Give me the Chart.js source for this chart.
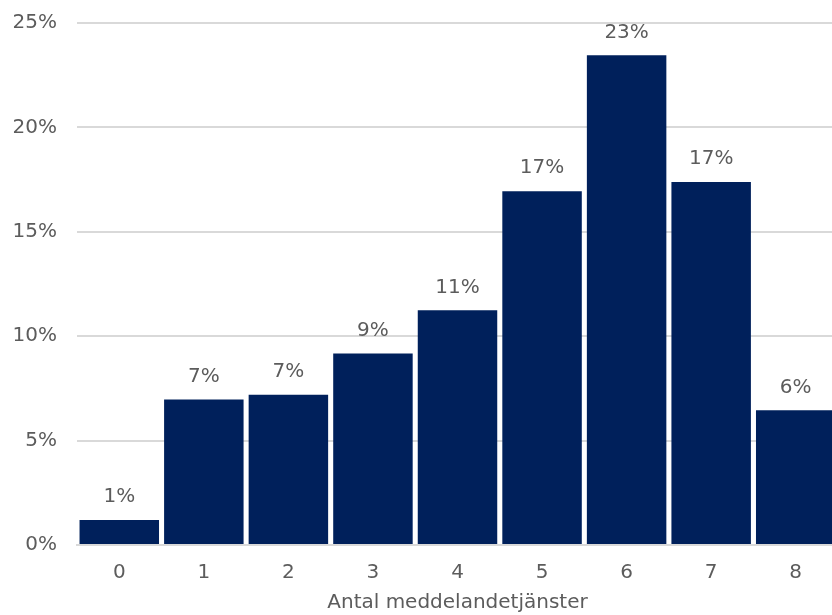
<!DOCTYPE html>
<html>
<head>
<meta charset="utf-8">
<script src="https://cdn.jsdelivr.net/npm/chart.js@4"></script>
<style>
  html,body{margin:0;padding:0;background:#fff;overflow:hidden;}
  #wrap{width:838px;height:615px;}
</style>
</head>
<body>
<div id="wrap"><canvas id="chart" width="838" height="615"></canvas></div>
<script>
/* andel respondenter per antal meddelandetjänster (%) */
const kategorier = ['0','1','2','3','4','5','6','7','8'];
const andel = [1.2, 6.97, 7.19, 9.17, 11.24, 16.94, 23.45, 17.38, 6.45];
const yTicks = [0, 5, 10, 15, 20, 25];
const xTitel = 'Antal meddelandetjänster';

const TEXT = '#5c5c5c';
const FONT = "'DejaVu Sans', sans-serif";
const SIZE = 20;

// etiketter ovanför staplarna
const stapelEtiketter = {
  id: 'stapelEtiketter',
  afterDatasetsDraw(chart){
    const ctx = chart.ctx;
    const meta = chart.getDatasetMeta(0);
    ctx.save();
    ctx.fillStyle = TEXT;
    ctx.font = SIZE + 'px ' + FONT;
    ctx.textAlign = 'center';
    ctx.textBaseline = 'middle';
    meta.data.forEach((bar, i) => {
      ctx.fillText(Math.round(andel[i]) + '%', bar.x, bar.y - 23);
    });
    ctx.restore();
  }
};

const tickFont = { family: FONT, size: SIZE };

new Chart(document.getElementById('chart'), {
  type: 'bar',
  data: {
    labels: kategorier,
    datasets: [{
      data: andel,
      backgroundColor: '#00205b',
      barPercentage: 0.94,
      categoryPercentage: 1.0
    }]
  },
  options: {
    responsive: false,
    animation: false,
    layout: { padding: { top: 23, right: 0, bottom: 0, left: 0 } },
    plugins: { legend: { display: false }, tooltip: { enabled: false } },
    scales: {
      x: {
        afterFit: s => { s.height = 70; },
        grid: { display: false, drawTicks: false },
        border: { display: true, color: '#d9d9d9', width: 2 },
        ticks: { color: TEXT, font: tickFont, padding: 16 },
        title: { display: true, text: xTitel, color: TEXT, font: tickFont, padding: { top: 0, bottom: 0 } }
      },
      y: {
        min: 0, max: 25,
        afterBuildTicks: s => { s.ticks = yTicks.map(v => ({ value: v })); },
        afterFit: s => { s.width = 77; s.paddingTop = 0; s.paddingBottom = 0; },
        grid: { color: '#d9d9d9', lineWidth: 2, drawTicks: false },
        border: { display: false },
        ticks: { color: TEXT, font: tickFont, padding: 20, callback: v => v + '%' }
      }
    }
  },
  plugins: [stapelEtiketter]
});
</script>
</body>
</html>
